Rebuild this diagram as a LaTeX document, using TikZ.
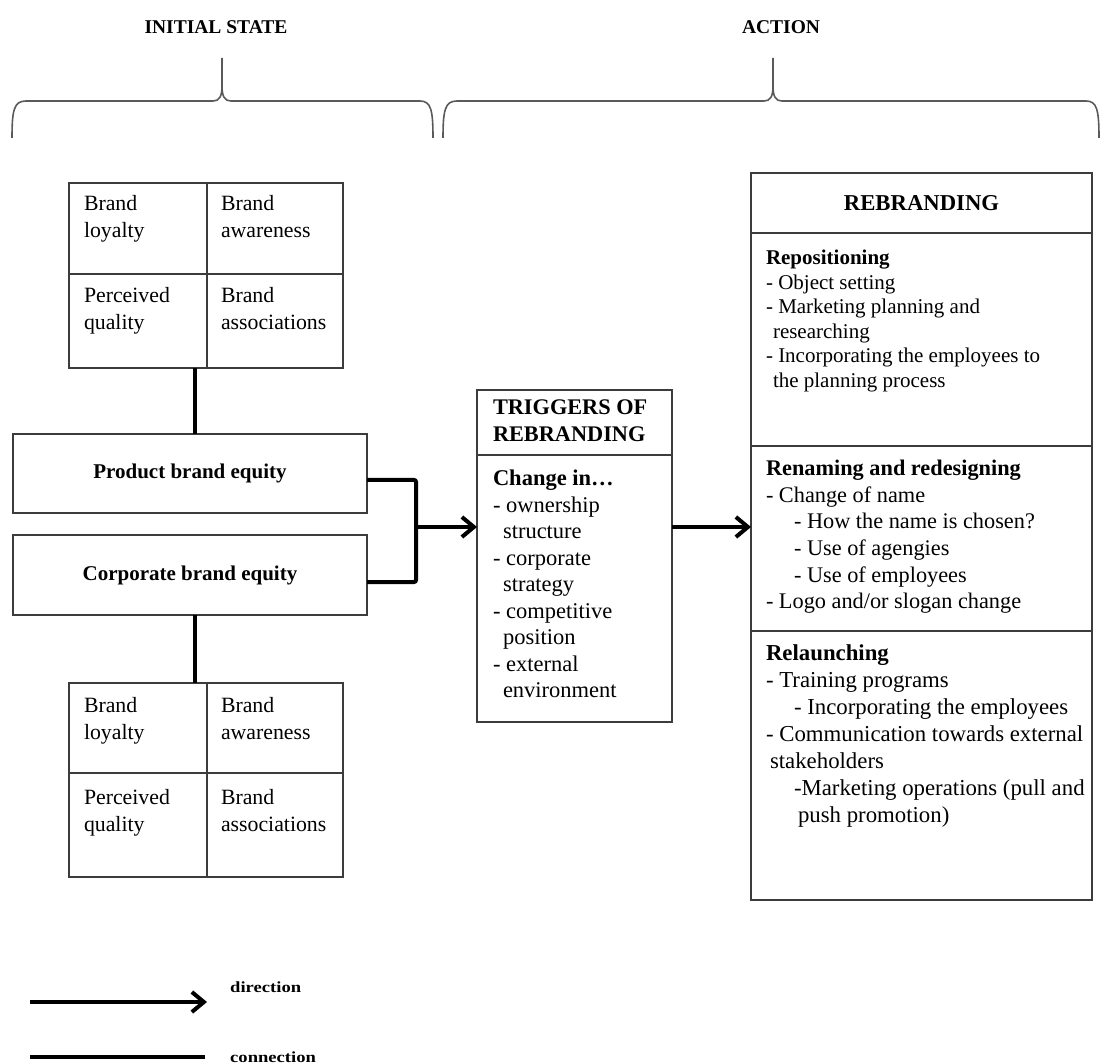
\documentclass[tikz,border=0pt]{standalone}
\usepackage{fontspec}
\setmainfont{Liberation Serif}
\newfontfamily\legendfont[FakeStretch=1.2]{Liberation Serif}
\usetikzlibrary{arrows.meta}
\definecolor{framegray}{HTML}{3C3C3C}
\definecolor{bracegray}{HTML}{5A5A5A}
\newcommand\setfs[2]{\fontsize{#1}{#2}\selectfont}
\begin{document}
\begin{tikzpicture}[x=1pt,y=-1pt,
  frame/.style={draw=framegray,line width=1.8pt,inner sep=0pt,outer sep=0pt,anchor=north west},
  rule/.style={draw=framegray,line width=1.8pt},
  conn/.style={line width=4pt,rounded corners=2pt},
  dirarrow/.style={line width=4pt,-{Straight Barb[length=12pt,width=20pt]}},
  brace/.style={draw=bracegray,line width=1.6pt},
  txt/.style={inner sep=0pt,outer sep=0pt,anchor=north west,align=left},
  gridtxt/.style={txt,font=\setfs{21.8}{27}},
  headtxt/.style={inner sep=0pt,font=\bfseries\setfs{19.5}{22}},
  legtxt/.style={inner sep=0pt,anchor=west,font=\legendfont\bfseries\setfs{15.5}{18}}]
\useasboundingbox (0,0) rectangle (1101,1064);

% headings and braces
\node[headtxt] (hinit) at (216,27) {INITIAL STATE};
\node[headtxt] (hact) at (781,27) {ACTION};
\draw[brace] (12,138) .. controls (12,110) and (14,101) .. (26,101) -- (213,101)
  .. controls (219,101) and (222,97) .. (222,86) -- (222,58) -- (222,86)
  .. controls (222,97) and (225,101) .. (231,101) -- (420,101)
  .. controls (431,101) and (433,110) .. (433,138);
\draw[brace] (443,138) .. controls (443,110) and (445,101) .. (457,101) -- (764,101)
  .. controls (770,101) and (773,97) .. (773,86) -- (773,58) -- (773,86)
  .. controls (773,97) and (776,101) .. (782,101) -- (1086,101)
  .. controls (1097,101) and (1099,110) .. (1099,138);

% upper equity grid
\node[frame,minimum width=274pt,minimum height=185pt] (topgrid) at (69,183) {};
\draw[rule] (207,183) -- (207,368) (69,274) -- (343,274);
\node[gridtxt] (tgA) at (84,195) {Brand\\loyalty};
\node[gridtxt] (tgB) at (221,195) {Brand\\awareness};
\node[gridtxt] (tgC) at (84,287) {Perceived\\quality};
\node[gridtxt] (tgD) at (221,287) {Brand\\associations};

% equity boxes
\node[frame,minimum width=354pt,minimum height=79pt,font=\bfseries\setfs{21}{25}] (prod) at (13,434) {Product brand equity};
\node[frame,minimum width=354pt,minimum height=80pt,font=\bfseries\setfs{21}{25}] (corp) at (13,535) {Corporate brand equity};

% lower equity grid
\node[frame,minimum width=274pt,minimum height=194pt] (botgrid) at (69,683) {};
\draw[rule] (207,683) -- (207,877) (69,773) -- (343,773);
\node[gridtxt] (bgA) at (84,697) {Brand\\loyalty};
\node[gridtxt] (bgB) at (221,697) {Brand\\awareness};
\node[gridtxt] (bgC) at (84,789) {Perceived\\quality};
\node[gridtxt] (bgD) at (221,789) {Brand\\associations};

% triggers
\node[frame,minimum width=195pt,minimum height=332pt] (trig) at (477,390) {};
\draw[rule] (477,455) -- (672,455);
\node[txt,font=\bfseries\setfs{22.3}{27}] (trighead) at (493,400) {TRIGGERS OF\\REBRANDING};
\node[txt,font=\setfs{22.5}{26.5}] (trigbody) at (493,470) {\textbf{Change in…}\\
- ownership\\
\hspace*{10pt}structure\\
- corporate\\
\hspace*{10pt}strategy\\
- competitive\\
\hspace*{10pt}position\\
- external\\
\hspace*{10pt}environment};

% rebranding
\node[frame,minimum width=341pt,minimum height=727pt] (reb) at (751,173) {};
\draw[rule] (751,233) -- (1092,233) (751,446) -- (1092,446) (751,631) -- (1092,631);
\node[inner sep=0pt,font=\bfseries\setfs{22.7}{27}] (rebhead) at (921.5,203) {REBRANDING};
\node[txt,font=\setfs{21}{24.6}] (secA) at (766,250) {\textbf{Repositioning}\\
- Object setting\\
- Marketing planning and\\
\hspace*{7pt}researching\\
- Incorporating the employees to\\
\hspace*{7pt}the planning process};
\node[txt,font=\setfs{22.3}{26.7}] (secB) at (766,460) {\textbf{Renaming and redesigning}\\
- Change of name\\
\hspace*{28pt}- How the name is chosen?\\
\hspace*{28pt}- Use of agengies\\
\hspace*{28pt}- Use of employees\\
- Logo and/or slogan change};
\node[txt,font=\setfs{22.8}{27}] (secC) at (766,645) {\textbf{Relaunching}\\
- Training programs\\
\hspace*{28pt}- Incorporating the employees\\
- Communication towards external\\
\hspace*{4pt}stakeholders\\
\hspace*{28pt}-Marketing operations (pull and\\
\hspace*{32pt}push promotion)};

% connectors
\coordinate (join) at (416,527);
\draw[conn] ([xshift=-11pt]topgrid.south) -- ([xshift=-11pt]topgrid.south |- prod.north);
\draw[conn] ([xshift=-11pt]botgrid.north |- corp.south) -- ([xshift=-11pt]botgrid.north);
\draw[conn] ([yshift=-6.5pt]prod.east) -| (join) |- ([yshift=-7pt]corp.east);
\draw[dirarrow] (join) -- (join -| trig.west);
\draw[dirarrow] (trig.east |- join) -- (join -| reb.west);

% legend
\coordinate (la) at (30,1002);
\coordinate (lb) at (207,1002);
\coordinate (lc) at (30,1057);
\coordinate (ld) at (205,1057);
\draw[dirarrow] (la) -- (lb);
\draw[line width=4pt] (lc) -- (ld);
\node[legtxt] (ldir) at (230,987) {direction};
\node[legtxt] (lcon) at (230,1057) {connection};
\end{tikzpicture}
\end{document}
